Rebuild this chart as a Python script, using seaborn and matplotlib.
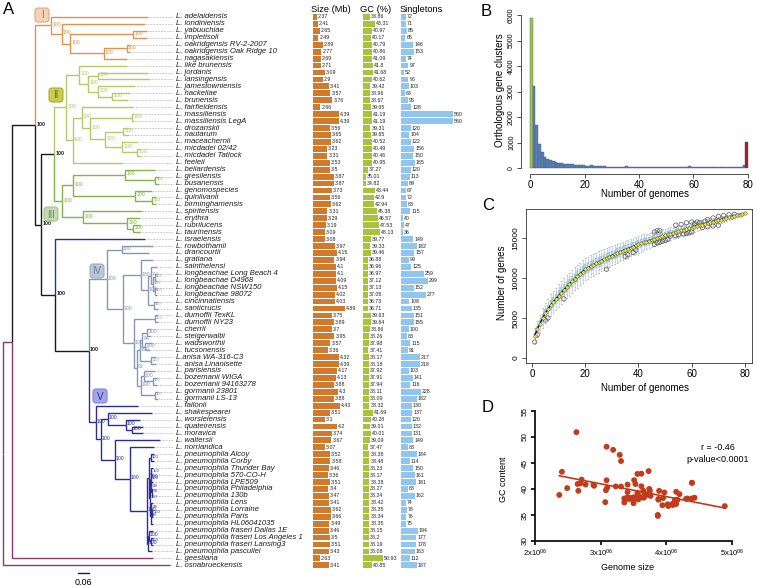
import numpy as np
import pandas as pd
import matplotlib
matplotlib.use('Agg')
import matplotlib.pyplot as plt
from matplotlib.patches import FancyBboxPatch
import seaborn as sns

plt.rcParams['font.family'] = ['Liberation Sans', 'DejaVu Sans']
plt.rcParams['mathtext.fontset'] = 'custom'
plt.rcParams['mathtext.rm'] = 'Liberation Sans'
plt.rcParams['mathtext.it'] = 'Liberation Sans:italic'

# ---------------- data: panel A table ----------------
species = [
    'L. adelaidensis', 'L. londiniensis', 'L. yabuuchiae', 'L. impletisoli',
    'L. oakridgensis RV-2-2007', 'L. oakridgensis Oak Ridge 10', 'L. nagasakiensis',
    'L. like brunensis', 'L. jordanis', 'L. lansingensis', 'L. jamestowniensis',
    'L. hackeliae', 'L. brunensis', 'L. fairfieldensis', 'L. massiliensis',
    'L. massiliensis LegA', 'L. drozanskii', 'L. nautarum', 'L. maceachernii',
    'L. micdadei 02/42', 'L. micdadei Tatlock', 'L. feeleii', 'L. beliardensis',
    'L. gresilensis', 'L. busanensis', 'L. genomospecies', 'L. quinlivanii',
    'L. birminghamensis', 'L. spiritensis', 'L. erythra', 'L. rubrilucens',
    'L. taurinensis', 'L. israelensis', 'L. rowbothamii', 'L. drancourtii',
    'L. gratiana', 'L. sainthelensi', 'L. longbeachae Long Beach 4',
    'L. longbeachae D4968', 'L. longbeachae NSW150', 'L. longbeachae 98072',
    'L. cincinnatiensis', 'L. santicrucis', 'L. dumoffii TexKL', 'L. dumoffii NY23',
    'L. cherrii', 'L. steigerwaltii', 'L. wadsworthii', 'L. tucsonensis',
    'L.anisa WA-316-C3', 'L. anisa Linanisette', 'L. parisiensis',
    'L. bozemanii WIGA', 'L. bozemanii 94163278', 'L. gormanii 23801',
    'L. gormanii LS-13', 'L. fallonii', 'L. shakespearei', 'L. worsleiensis',
    'L. quateirensis', 'L. moravica', 'L. waltersii', 'L. norrlandica',
    'L. pneumophila Alcoy', 'L. pneumophila Corby', 'L. pneumophila Thunder Bay',
    'L. pneumophila 570-CO-H', 'L. pneumophila LPE509', 'L. pneumophila Philadelphia',
    'L. pneumophila 130b', 'L. pneumophila Lens', 'L. pneumophila Lorraine',
    'L. pneumophila Paris', 'L. pneumophila HL06041035',
    'L. pneumophila fraseri Dallas 1E', 'L. pneumophila fraseri Los Angeles 1',
    'L. pneumophila fraseri Lansing3', 'L. pneumophila pascullei', 'L. geestiana',
    'L. osnabrueckensis']

genome_size = [2.37, 2.41, 2.65, 2.49, 2.89, 2.77, 2.69, 2.71, 3.09, 2.9,
               3.41, 3.57, 3.76, 2.66, 4.39, 4.39, 3.56, 3.65, 3.62, 3.23,
               3.31, 3.53, 3.5, 3.87, 3.87, 3.73, 3.56, 3.62, 3.31, 3.29,
               3.19, 3.09, 3.08, 3.97, 4.15, 3.94, 4.1, 4.1, 4.09, 4.15,
               4.02, 4.03, 4.89, 3.75, 3.89, 3.7, 3.95, 3.57, 3.36, 4.32,
               4.39, 4.17, 4.13, 3.88, 4.3, 3.88, 4.43, 3.51, 3.1, 4.2,
               3.74, 3.67, 3.07, 3.52, 3.58, 3.46, 3.36, 3.51, 3.4, 3.47,
               3.41, 3.62, 3.66, 3.49, 3.46, 3.5, 3.51, 3.43, 2.63, 3.41]

gc_content = [38.86, 43.31, 40.97, 40.17, 40.79, 40.86, 41.09, 41.8, 41.68, 40.62,
              39.42, 38.96, 38.67, 39.65, 41.19, 41.19, 39.31, 39.65, 40.52, 40.49,
              40.46, 40.95, 37.27, 35.01, 34.82, 43.44, 42.9, 42.94, 45.38, 46.57,
              47.53, 48.13, 39.77, 39.33, 39.46, 36.88, 36.96, 36.97, 37.12, 37.13,
              37.05, 36.73, 36.71, 39.63, 39.64, 38.86, 38.26, 37.98, 37.41, 38.17,
              38.18, 37.92, 37.91, 37.94, 38.11, 38.09, 38.32, 41.69, 40.28, 39.01,
              40.01, 39.09, 37.47, 38.38, 38.48, 38.23, 38.17, 38.38, 38.27, 38.24,
              38.42, 38.35, 38.34, 38.35, 38.15, 38.2, 38.19, 38.08, 50.93, 40.85]

singletons = [72, 71, 85, 65, 146, 153, 74, 97, 52, 96,
              103, 63, 95, 128, 560, 560, 120, 104, 122, 156,
              150, 165, 120, 113, 89, 67, 72, 83, 115, 40,
              47, 36, 149, 182, 157, 99, 125, 259, 299, 152,
              277, 108, 135, 151, 155, 100, 83, 115, 91, 217,
              218, 103, 141, 116, 228, 182, 130, 137, 120, 132,
              131, 149, 88, 184, 114, 150, 161, 181, 88, 162,
              74, 78, 76, 75, 194, 177, 178, 163, 112, 187]

# phylogeny (tips = row index in `species`, branch lengths in substitutions/site,
# internal labels = bootstrap support, '#X' = clade tag)
clade_I = ("(0:0.529,(1:0.453,((2:0.076,3:0.076)100:0.344,((4:0.016,5:0.016)100:0.125,"
           "6:0.125)100:0.185)100:0.044)100:0.060)100#I:0.087")
clade_II = ("((7:0.262,((8:0.273,9:0.284)100:0.055,(10:0.202,(11:0.098,12:0.087)100:0.076)"
            "100:0.055)100:0.049)100:0.071,((13:0.278,((14:0.011,15:0.011)100:0.229,"
            "((16:0.033,17:0.033)100:0.098,(18:0.082,(19:0.022,20:0.022)100:0.082)100:0.093)"
            "100:0.082)100:0.044)100:0.049,21:0.273)100:0.038)100#II:0.065")
clade_III = ("(((22:0.164,(23:0.022,24:0.022)100:0.164)100:0.284,(25:0.093,(26:0.022,"
             "27:0.022)100:0.093)100:0.338)100:0.060,(28:0.322,(29:0.071,(30:0.038,"
             "31:0.038)100:0.033)100:0.240)100:0.115)100#III:0.044")
clade_IV = ("((33:0.169,34:0.147)100:0.082,((35:0.065,((36:0.033,((37:0.011,38:0.011)100:0.011,"
            "(39:0.011,40:0.011)100:0.011)100:0.011)100:0.016,(41:0.022,42:0.022)100:0.033)"
            "100:0.038)100:0.098,((43:0.016,44:0.016)100:0.115,((((45:0.022,46:0.022)100:0.027,"
            "(47:0.038,48:0.027)100:0.016)84:0.016,(49:0.022,50:0.022)100:0.065)100:0.016,"
            "((51:0.060,(52:0.022,53:0.022)100:0.049)100:0.016,(54:0.016,55:0.016)100:0.076)"
            "100:0.022)99:0.016)100:0.060)100:0.087)100#IV:0.098")
clade_V = ("(56:0.229,((57:0.240,(58:0.076,(59:0.060,60:0.060)100:0.033)100:0.098)100:0.038,"
           "(61:0.245,(62:0.131,(((63:0.016,64:0.016)100:0.011,(((65:0.011,66:0.011)100:0.005,"
           "(67:0.011,(68:0.005,69:0.005)65:0.005)99:0.005)100:0.005,((70:0.011,(71:0.005,"
           "72:0.005)100:0.005)98:0.005,73:0.016)99:0.005)100:0.005)100:0.011,((74:0.022,"
           "(75:0.011,76:0.011)100:0.011)100:0.005,77:0.022)100:0.005)100:0.093)100:0.082)"
           "100:0.076)100:0.027)100#V:0.038")
newick = ("(((" + clade_I + ",((" + clade_II + "," + clade_III + ")100:0.071,"
          "(32#V:0.491,(" + clade_IV + "," + clade_V + ")100:0.185)100:0.076)100:0.033)"
          "100#K:0.125,78:0.769):0.049,79:0.911)#M;")

clade_colors = {'M': '#8c3b6c', 'K': '#1a1a1a', 'I': '#e2924f', 'II': '#b3c96a',
                'III': '#86b24a', 'IV': '#8898b4', 'V': '#2a2d9c'}
clade_boxes = [('I', 15, '#f3d2b6', '#e0a77c', '#b0703f'),
               ('II', 95, '#c9cd4f', '#a9ad35', '#6d7020'),
               ('III', 214, '#c6dab1', '#a8c48f', '#6e8a5a'),
               ('IV', 271, '#bac7d6', '#9eafc4', '#6a7f9c'),
               ('V', 396, '#a3a6ec', '#7f84d8', '#2a2d9c')]
clade_box_x = [42, 56, 51, 97, 100]

# ---------------- data: panel B ----------------
n_genomes = list(range(1, 81))
clusters = [5880, 3200, 1700, 940, 620, 450, 360, 310, 270, 245,
            205, 190, 155, 140, 150, 140, 130, 115, 115, 100,
            95, 95, 100, 90, 95, 70, 65, 65, 60, 60,
            60, 55, 55, 60, 55, 75, 55, 50, 55, 50,
            50, 45, 50, 50, 55, 60, 45, 45, 40, 45,
            40, 50, 40, 55, 40, 40, 45, 50, 70, 40,
            45, 40, 35, 40, 40, 40, 45, 35, 40, 40,
            35, 40, 35, 40, 45, 40, 50, 60, 110, 1030]
cluster_kind = ['unique'] + ['shared'] * 78 + ['core']
kind_colors = {'unique': '#a9c24a', 'shared': '#5a7fb2', 'core': '#b3161c'}

# ---------------- data: panel C ----------------
pan_k = list(range(1, 81))
pan_genes = [2800, 3600, 4300, 5000, 5600, 6100, 6600, 7000, 7400, 7800,
             8180, 8550, 8900, 9240, 9570, 9890, 10200, 10510, 10810, 11100,
             11290, 11470, 11650, 11830, 12000, 12170, 12340, 12500, 12660, 12810,
             12960, 13110, 13250, 13390, 13530, 13670, 13800, 13930, 14070, 14200,
             14320, 14440, 14550, 14670, 14780, 14890, 15000, 15110, 15220, 15330,
             15440, 15540, 15640, 15740, 15840, 15940, 16030, 16120, 16210, 16300,
             16400, 16500, 16590, 16680, 16770, 16860, 16950, 17040, 17130, 17220,
             17310, 17400, 17490, 17580, 17670, 17750, 17840, 17930, 18010, 18100]
box_half = [350, 420, 480, 520, 550, 580, 600, 620, 630, 640,
            650, 650, 660, 660, 660, 660, 660, 650, 650, 650,
            640, 640, 630, 630, 620, 620, 610, 600, 600, 590,
            580, 580, 570, 560, 560, 550, 540, 540, 530, 520,
            510, 500, 500, 490, 480, 470, 460, 450, 440, 430,
            420, 410, 400, 390, 380, 370, 360, 350, 340, 330,
            320, 310, 300, 290, 280, 270, 260, 250, 240, 230,
            220, 210, 195, 180, 165, 150, 130, 110, 80, 0]
whisk_half = [900, 1000, 1100, 1200, 1250, 1300, 1350, 1380, 1400, 1420,
              1430, 1440, 1440, 1440, 1440, 1430, 1420, 1410, 1400, 1390,
              1380, 1370, 1360, 1340, 1330, 1310, 1300, 1280, 1260, 1240,
              1220, 1200, 1180, 1160, 1140, 1120, 1100, 1080, 1060, 1040,
              1020, 1000, 980, 960, 940, 920, 900, 880, 860, 840,
              820, 800, 780, 760, 740, 720, 700, 680, 660, 640,
              620, 600, 580, 560, 540, 520, 500, 480, 460, 440,
              420, 400, 380, 350, 320, 290, 250, 200, 150, 0]
outlier_k = [1, 2, 5, 6, 12, 28, 35, 36, 38, 39, 46, 47, 48, 46, 47, 48,
             52, 54, 55, 57, 58, 59, 60, 54, 56, 58, 60, 62, 64, 66, 68, 70,
             66, 68, 70, 72, 74, 63, 65, 61, 50, 51, 49, 76]
outlier_v = [2000, 2900, 4750, 5000, 7400, 11100, 12700, 12900, 13200, 13500, 14200, 14400,
             14500, 15750, 15900, 15900, 15250, 15300, 15400, 15500, 15550, 15650, 15750,
             16600, 16700, 16900, 17000, 17000, 16300, 16400, 16500, 16600,
             17300, 17500, 17700, 17800, 17900, 16950, 17100, 16800, 14700, 14850, 14600, 17950]

# ---------------- figure helpers ----------------
W, H = 757, 587
fig = plt.figure(figsize=(W / 100, H / 100), dpi=100)


def add_ax(l, t, r, b):
    return fig.add_axes([l / W, 1 - b / H, (r - l) / W, (b - t) / H])


ROW_TOP, ROW_BOT = 13.5, 568.8
PX_PER_UNIT = 183.3  # tree scale: 0.06 = 11 px

# ---------------- tree ----------------
def parse_newick(s):
    pos = 0

    def read():
        nonlocal pos
        node = {'children': [], 'tip': None, 'support': None, 'tag': None, 'length': 0.0}
        if s[pos] == '(':
            pos += 1
            node['children'].append(read())
            while s[pos] == ',':
                pos += 1
                node['children'].append(read())
            pos += 1
        start = pos
        while s[pos] not in ':,);':
            pos += 1
        label = s[start:pos]
        if '#' in label:
            label, node['tag'] = label.split('#')
        if label:
            if node['children']:
                node['support'] = label
            else:
                node['tip'] = int(label)
        if s[pos] == ':':
            pos += 1
            start = pos
            while s[pos] not in ',);':
                pos += 1
            node['length'] = float(s[start:pos])
        return node
    return read()


tree = parse_newick(newick)


def layout(node, x0, color):
    node['x'] = x0 + node['length']
    node['color'] = clade_colors[node['tag']] if node['tag'] else color
    if node['children']:
        for c in node['children']:
            layout(c, node['x'], node['color'])
        node['y'] = (node['children'][0]['y'] + node['children'][-1]['y']) / 2
    else:
        node['y'] = node['tip']


layout(tree, 0.0, clade_colors['K'])

ax_t = add_ax(0, ROW_TOP, 176, ROW_BOT)
ax_t.set_xlim(-3 / PX_PER_UNIT, 173 / PX_PER_UNIT)
ax_t.set_ylim(len(species) - 0.5, -0.5)
ax_t.axis('off')
leader_end = 170 / PX_PER_UNIT
name_x = 173 / PX_PER_UNIT


def draw(node):
    for c in node['children']:
        ax_t.plot([node['x'], node['x'], c['x']], [node['y'], c['y'], c['y']],
                  color=c['color'], lw=1.0, solid_joinstyle='miter',
                  solid_capstyle='butt', clip_on=False)
        draw(c)
    if node['children'] and node['support']:
        black = node['color'] == clade_colors['K']
        small = node['x'] > 146 / PX_PER_UNIT
        ax_t.text(node['x'] + 1.3 / PX_PER_UNIT, node['y'] - 0.15, node['support'],
                  fontsize=3.0 if small else 3.7, color=node['color'], va='center',
                  ha='left', fontweight='bold' if black else 'normal', clip_on=False)
    if not node['children']:
        ax_t.plot([node['x'] + 1 / PX_PER_UNIT, leader_end], [node['y'], node['y']],
                  color='#9a9a9a', lw=0.5, ls=(0, (1, 1.2)), clip_on=False)


draw(tree)
for i, nm in enumerate(species):
    ax_t.text(name_x, i, nm, fontsize=5.6, style='italic', va='center', ha='left',
              color='#1e1e1e', clip_on=False)

# scale bar
sb_x0 = 75 / PX_PER_UNIT
ax_t.plot([sb_x0, sb_x0 + 0.06], [80.1, 80.1], color='#222222', lw=1.0, clip_on=False)
ax_t.text(sb_x0 + 0.03, 81.5, '0.06', fontsize=6.5, ha='center', va='center', clip_on=False)

# ---------------- bars ----------------
df = pd.DataFrame({'species': species, 'size': genome_size, 'gc': gc_content,
                   'single': singletons})
bar_specs = [('size', 313, 358, 2.0, 11.0, '#d27a2c', genome_size),
             ('gc', 363, 398, 32.5, 1.08, '#a8c33a', gc_content),
             ('single', 401, 462, 20.0, 0.096, '#8fc5ef', singletons)]
for col, l, r, x0, k, colr, vals in bar_specs:
    ax = add_ax(l, ROW_TOP, r, ROW_BOT)
    sns.barplot(data=df, x=col, y='species', order=species, ax=ax, color=colr,
                saturation=1, width=0.84, orient='h', errorbar=None, linewidth=0)
    ax.set_xlim(x0, x0 + (r - l) / k)
    ax.set_ylim(len(species) - 0.5, -0.5)
    ax.axis('off')
    for i, v in enumerate(vals):
        ax.text(v + 1.0 / k, i, f'{v:g}', fontsize=3.8, va='center', ha='left',
                color='#222222', clip_on=False)

# ---------------- overlay for annotations ----------------
ov = fig.add_axes([0, 0, 1, 1], zorder=10)
ov.set_xlim(0, W)
ov.set_ylim(H, 0)
ov.axis('off')
ov.text(331, 10, 'Size (Mb)', fontsize=6.7, ha='center', va='center')
ov.text(376, 10, 'GC (%)', fontsize=6.7, ha='center', va='center')
ov.text(421, 10, 'Singletons', fontsize=6.7, ha='center', va='center')
ov.text(3, 10, 'A', fontsize=12, ha='left', va='center')
ov.text(481, 11, 'B', fontsize=12, ha='left', va='center')
ov.text(482, 205, 'C', fontsize=12, ha='left', va='center')
ov.text(482, 407, 'D', fontsize=12, ha='left', va='center')
for (lab, cy, fc, ec, tc), cx in zip(clade_boxes, clade_box_x):
    ov.add_patch(FancyBboxPatch((cx - 6, cy - 6), 12, 12,
                                boxstyle='round,pad=1,rounding_size=3', fc=fc, ec=ec, lw=0.8))
    ov.text(cx, cy + 0.5, lab, fontsize=7, ha='center', va='center', color=tc)

# ---------------- panel B ----------------
axB = add_ax(521.3, 12.9, 756.7, 174)
dfB = pd.DataFrame({'pos': np.array(n_genomes, dtype=float) - 0.5, 'clusters': clusters,
                    'kind': cluster_kind})
sns.barplot(data=dfB, x='pos', y='clusters', hue='kind', palette=kind_colors,
            native_scale=True, width=1, dodge=False, legend=False, saturation=1,
            errorbar=None, edgecolor='#3f5f8c', linewidth=0.3, ax=axB)
axB.set_xlim(-3.2, 83.2)
axB.set_ylim(-234, 6084)


def r_axes(ax, xt, yt, xfs, yfs, box=False, sw=0.6):
    ax.set_facecolor('none')
    for sp in ['top', 'right']:
        ax.spines[sp].set_visible(box)
    for sp in ax.spines.values():
        sp.set_color('#333333')
        sp.set_linewidth(sw)
    ax.set_xticks(xt)
    ax.set_xticklabels([f'{v:g}' for v in xt])
    ax.set_yticks(yt)
    ax.set_yticklabels([str(v) for v in yt], rotation=90, va='center')
    ax.tick_params(axis='both', direction='out', length=3, width=sw, color='#333333', pad=1.5)
    ax.tick_params(axis='x', labelsize=xfs)
    ax.tick_params(axis='y', labelsize=yfs)
    ax.set_xlabel('')
    ax.set_ylabel('')


r_axes(axB, [0, 20, 40, 60, 80], [0, 1000, 2000, 3000, 4000, 5000, 6000], 7, 5)
axB.spines['left'].set_bounds(0, 6000)
axB.spines['bottom'].set_bounds(0, 80)
ov.text(645, 194, 'Number of genomes', fontsize=7, ha='center', va='center')
ov.text(500, 90, 'Orthologous gene clusters', fontsize=7, ha='center', va='center', rotation=90)

# ---------------- panel C ----------------
axC = add_ax(526, 209, 752, 363)
stats = [dict(med=m, q1=m - b, q3=m + b, whislo=m - w, whishi=m + w, fliers=[])
         for m, b, w in zip(pan_genes, box_half, whisk_half)]
axC.bxp(stats, positions=pan_k, widths=0.75, patch_artist=True, showfliers=False,
        manage_ticks=False,
        boxprops=dict(facecolor='#aed6ea', edgecolor='#93bfd8', lw=0.3),
        whiskerprops=dict(color='#8a9aac', lw=0.5, ls=(0, (1.2, 0.8))),
        capprops=dict(color='#8a9aac', lw=0.4),
        medianprops=dict(color='#e6df55', lw=0.6))
sns.scatterplot(x=outlier_k, y=outlier_v, ax=axC, s=10, facecolor='none',
                edgecolor='#555555', linewidth=0.5, zorder=3)
sns.lineplot(x=pan_k, y=pan_genes, ax=axC, color='#111111', lw=1.0, zorder=4)
sns.scatterplot(x=pan_k, y=pan_genes, ax=axC, s=6, color='#e8e04e', edgecolor='#444444',
                linewidth=0.3, zorder=5)
axC.set_xlim(-2.25, 82.63)
axC.set_ylim(-625, 18625)
r_axes(axC, [0, 20, 40, 60, 80], [0, 5000, 10000, 15000], 7, 6, box=True)
ov.text(645, 388, 'Number of genomes', fontsize=7, ha='center', va='center')
ov.text(502, 283, 'Number of genes', fontsize=7, ha='center', va='center', rotation=90)

# ---------------- panel D ----------------
axD = add_ax(535, 411, 732, 541)
size_bp = np.array(genome_size) * 1e6
sns.regplot(x=size_bp, y=np.array(gc_content), ax=axD, ci=None, truncate=True,
            scatter_kws=dict(s=18, color='#c23b1c', edgecolors='none', alpha=1),
            line_kws=dict(color='#c23b1c', lw=1.2))
axD.set_xlim(2e6, 5e6)
axD.set_ylim(30, 55)
r_axes(axD, [2e6, 3e6, 4e6, 5e6], [30, 35, 40, 45, 50, 55], 5.5, 5.8, sw=1.3)
for sp in ['left', 'bottom']:
    axD.spines[sp].set_color('#111111')
axD.tick_params(color='#111111')
axD.set_xticklabels([r'2x10$^{06}$', r'3x10$^{06}$', r'4x10$^{06}$', r'5x10$^{06}$'])
ov.text(718, 448, 'r = -0.46', fontsize=6.5, ha='center', va='center')
ov.text(718, 460, 'p-value<0.0001', fontsize=6.5, ha='center', va='center')
ov.text(628, 567, 'Genome size', fontsize=6.5, ha='center', va='center')
ov.text(503, 479, 'GC content', fontsize=6.5, ha='center', va='center', rotation=90)

fig.savefig('out.png', dpi=100)
